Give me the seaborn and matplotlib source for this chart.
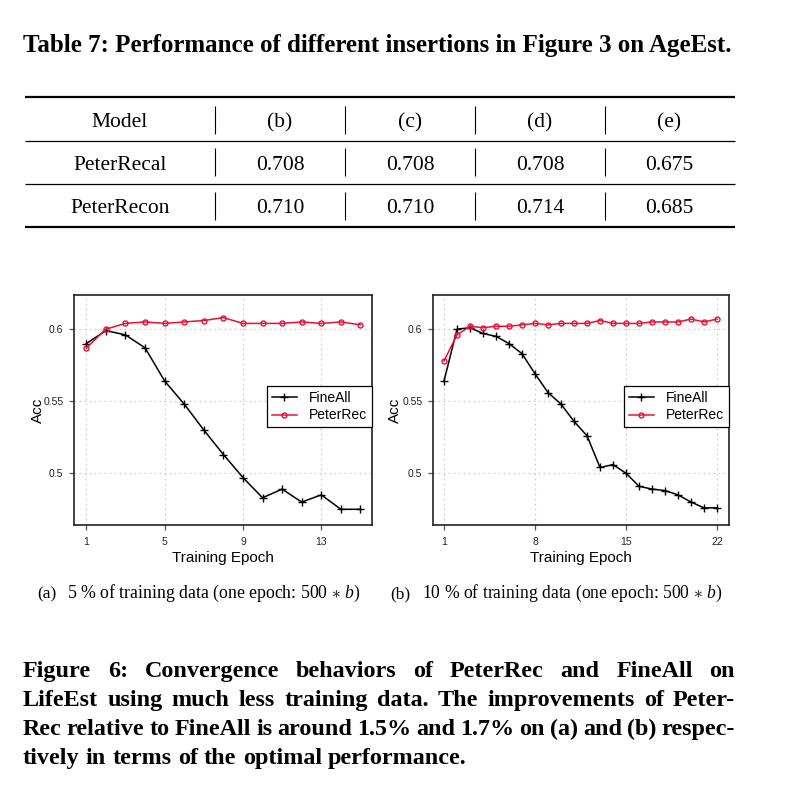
import matplotlib
matplotlib.use("Agg")
import matplotlib.pyplot as plt
import seaborn as sns

# --- Datos de la tabla ---
table_header = ["Model", "(b)", "(c)", "(d)", "(e)"]
table_models = ["PeterRecal", "PeterRecon"]
peterrecal = [0.708, 0.708, 0.708, 0.675]
peterrecon = [0.710, 0.710, 0.714, 0.685]

# --- Datos de las curvas ---
epochs_a = list(range(1, 16))
fineall_a = [0.590, 0.599, 0.596, 0.587, 0.564, 0.548, 0.530, 0.513,
             0.497, 0.483, 0.489, 0.480, 0.485, 0.475, 0.475]
peterrec_a = [0.587, 0.600, 0.604, 0.605, 0.604, 0.605, 0.606, 0.608,
              0.604, 0.604, 0.604, 0.605, 0.604, 0.605, 0.603]

epochs_b = list(range(1, 23))
fineall_b = [0.564, 0.600, 0.601, 0.597, 0.595, 0.590, 0.583, 0.569,
             0.556, 0.548, 0.536, 0.526, 0.504, 0.506, 0.500, 0.491,
             0.489, 0.488, 0.485, 0.480, 0.476, 0.476]
peterrec_b = [0.578, 0.596, 0.602, 0.601, 0.602, 0.602, 0.603, 0.604,
              0.603, 0.604, 0.604, 0.604, 0.606, 0.604, 0.604, 0.604,
              0.605, 0.605, 0.605, 0.607, 0.605, 0.607]

SERIF = ["Liberation Serif", "DejaVu Serif"]
SANS = ["Liberation Sans", "DejaVu Sans"]
RED = "#EB1133"

plt.rcParams["mathtext.fontset"] = "custom"
plt.rcParams["mathtext.rm"] = "Liberation Serif"
plt.rcParams["mathtext.it"] = "Liberation Serif:italic"
plt.rcParams["mathtext.bf"] = "Liberation Serif:bold"

fig = plt.figure(figsize=(8, 7.92), dpi=100)
bg = fig.add_axes([0, 0, 1, 1])
bg.set_xlim(0, 800)
bg.set_ylim(792, 0)
bg.axis("off")
renderer = fig.canvas.get_renderer()


def ancho(t):
    return t.get_window_extent(renderer).width


def texto_ajustado(x, y, s, w_obj, fs, **kw):
    t = bg.text(x, y, s, fontsize=fs, va="baseline", **kw)
    t.set_fontsize(fs * w_obj / ancho(t))
    return t


def linea_justificada(palabras, x0, x1, y, fs, completa=True):
    ts = [bg.text(x0, y, p, fontsize=fs, family=SERIF, weight="bold",
                  va="baseline") for p in palabras]
    ws = [ancho(t) for t in ts]
    if completa:
        gap = (x1 - x0 - sum(ws)) / (len(palabras) - 1)
    else:
        gap = fs * 100 / 72 * 0.26
    x = x0
    for t, w in zip(ts, ws):
        t.set_x(x)
        x += w + gap


# --- Título de la tabla ---
texto_ajustado(23, 52, "Table 7: Performance of different insertions in Figure 3 on AgeEst.",
               712, 16, family=SERIF, weight="bold")

# --- Tabla ---
col_x = [120, 280, 410, 540, 669]
sep_x = [215, 345, 475, 605]
bg.hlines([97, 227], 25, 735, color="black", lw=1.6)
bg.hlines([141, 184], 25, 735, color="black", lw=0.9)
filas = [table_header,
         [table_models[0]] + [f"{v:.3f}" for v in peterrecal],
         [table_models[1]] + [f"{v:.3f}" for v in peterrecon]]
base_y = [127, 170, 213]
centro_y = [120, 162, 206]
for fila, yb, yc in zip(filas, base_y, centro_y):
    for cx, s in zip(col_x, fila):
        bg.text(cx, yb, s, ha="center", va="baseline", fontsize=15.5, family=SERIF)
    bg.vlines(sep_x, yc - 14, yc + 14, color="black", lw=0.8)

# --- Gráficas ---
ax_a = fig.add_axes([74 / 800, 1 - 525 / 792, 298 / 800, 230 / 792])
ax_b = fig.add_axes([433 / 800, 1 - 525 / 792, 296 / 800, 230 / 792])


def panel(ax, epochs, fine, peter, xticks, xlim, off_acc):
    sns.lineplot(x=epochs, y=fine, ax=ax, color="black", marker="+",
                 markersize=6, markeredgecolor="black", markeredgewidth=1,
                 linewidth=1.1, label="FineAll")
    sns.lineplot(x=epochs, y=peter, ax=ax, color=RED, marker="o",
                 markersize=3.6, markerfacecolor="none", markeredgecolor=RED,
                 markeredgewidth=1, linewidth=1.1, label="PeterRec")
    ax.set_xlim(*xlim)
    ax.set_ylim(0.4641, 0.6237)
    ax.set_xticks(xticks)
    ax.set_yticks([0.5, 0.55, 0.6])
    ax.set_yticklabels(["0.5", "0.55", "0.6"])
    ax.grid(True, linestyle=(0, (1.5, 2.5)), color="#d0d0d0", lw=0.9)
    ax.set_axisbelow(True)
    for s in ax.spines.values():
        s.set_color("#222222")
        s.set_linewidth(1.2)
    ax.tick_params(length=3.6, width=0.9, color="#555555", labelsize=7.5,
                   labelcolor="#222222")
    ax.tick_params(axis="x", pad=5)
    ax.tick_params(axis="y", pad=4)
    for lab in ax.get_xticklabels() + ax.get_yticklabels():
        lab.set_family(SANS)
    ax.set_xlabel("Training Epoch", fontsize=11, family=SANS, va="center")
    ax.xaxis.set_label_coords(0.5, -33 / 230)
    ax.set_ylabel("Acc", fontsize=11, family=SANS, va="center")
    ax.yaxis.set_label_coords(off_acc, 0.5)
    ax.legend(loc="upper right", bbox_to_anchor=(1.0, 0.604), borderaxespad=0,
              frameon=True, fancybox=False, edgecolor="black", framealpha=1,
              prop={"family": SANS, "size": 10}, handlelength=1.8,
              handletextpad=0.9, borderpad=0.35, labelspacing=0.25)
    ax.get_legend().get_frame().set_linewidth(0.9)


panel(ax_a, epochs_a, fineall_a, peterrec_a, [1, 5, 9, 13], (0.37, 15.59), -36 / 298)
panel(ax_b, epochs_b, fineall_b, peterrec_b, [1, 8, 15, 22], (0.154, 22.92), -38 / 296)

# --- Subtítulos ---
bg.text(37, 598, "(a)", fontsize=12.5, family=SERIF, va="baseline")
texto_ajustado(67, 598, r"5 % of training data (one epoch: 500 $\ast$ $b$)", 293, 11,
               family=SERIF)
bg.text(390, 598, "(b)", fontsize=12.5, family=SERIF, va="baseline")
texto_ajustado(422, 598, r"10 % of training data (one epoch: 500 $\ast$ $b$)", 300, 11,
               family=SERIF)

# --- Pie de figura ---
lineas = ["Figure 6: Convergence behaviors of PeterRec and FineAll on",
          "LifeEst using much less training data. The improvements of Peter-",
          "Rec relative to FineAll is around 1.5% and 1.7% on (a) and (b) respec-",
          "tively in terms of the optimal performance."]
prueba = bg.text(0, 0, lineas[1], fontsize=15, family=SERIF, weight="bold")
fs_pie = 15 * 682 / ancho(prueba)
prueba.remove()
for i, (lin, yb) in enumerate(zip(lineas, [677, 706, 735, 764])):
    linea_justificada(lin.split(" "), 23, 735, yb, fs_pie, completa=(i < 3))

fig.savefig("out.png", dpi=100)
plt.close()
